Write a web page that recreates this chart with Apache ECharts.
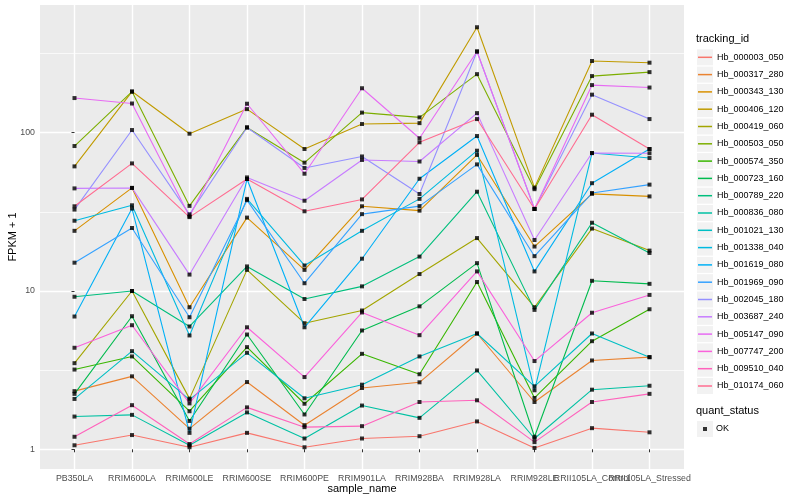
<!DOCTYPE html>
<html><head><meta charset="utf-8">
<script src="https://cdn.jsdelivr.net/npm/echarts@6/dist/echarts.min.js"></script>
<style>html,body{margin:0;padding:0;background:#fff}#c{width:800px;height:500px}</style>
</head><body><div id="c"></div>
<script>
// ---------- data ----------
const sampleNames = ['PB350LA','RRIM600LA','RRIM600LE','RRIM600SE','RRIM600PE','RRIM901LA','RRIM928BA','RRIM928LA','RRIM928LE','RRII105LA_Control','RRII105LA_Stressed'];
const trackingIds = ['Hb_000003_050','Hb_000317_280','Hb_000343_130','Hb_000406_120','Hb_000419_060','Hb_000503_050','Hb_000574_350','Hb_000723_160','Hb_000789_220','Hb_000836_080','Hb_001021_130','Hb_001338_040','Hb_001619_080','Hb_001969_090','Hb_002045_180','Hb_003687_240','Hb_005147_090','Hb_007747_200','Hb_009510_040','Hb_010174_060'];
// FPKM + 1 per sample
const hb_000003_050 = [1.06, 1.23, 1.03, 1.27, 1.03, 1.17, 1.21, 1.50, 1.02, 1.36, 1.28];
const hb_000317_280 = [2.33, 2.89, 1.35, 2.66, 1.42, 2.44, 2.65, 5.39, 1.99, 3.64, 3.82];
const hb_000343_130 = [24.0, 44.8, 7.9, 29.1, 13.6, 34.3, 32.2, 72.4, 19.1, 41.1, 39.6];
const hb_000406_120 = [61.3, 182, 98.6, 141, 78.9, 113.5, 115, 464, 45, 284, 277];
const hb_000419_060 = [3.5, 10.0, 2.09, 13.6, 6.26, 7.53, 12.8, 21.6, 7.9, 24.8, 18.0];
const hb_000503_050 = [82.4, 182, 34.5, 108, 64.7, 134, 125, 234.5, 44, 228, 241.5];
const hb_000574_350 = [3.19, 3.86, 1.74, 4.42, 1.94, 4.01, 2.98, 11.4, 2.11, 4.82, 7.67];
const hb_000723_160 = [2.24, 6.93, 1.51, 5.31, 1.66, 5.63, 8.0, 15.0, 1.20, 11.6, 11.1];
const hb_000789_220 = [9.2, 10.0, 5.97, 14.3, 8.9, 10.7, 16.5, 42.4, 7.6, 27.0, 17.4];
const hb_000836_080 = [1.61, 1.65, 1.06, 1.71, 1.17, 1.89, 1.58, 3.15, 1.17, 2.38, 2.52];
const hb_001021_130 = [2.08, 4.17, 2.06, 4.07, 2.10, 2.56, 3.86, 5.39, 2.50, 5.39, 3.82];
const hb_001338_040 = [27.8, 34.8, 5.24, 38.2, 14.5, 24.0, 38.2, 77.0, 2.36, 74.4, 69.2];
const hb_001619_080 = [6.9, 33.2, 1.27, 51, 5.9, 16.0, 51.2, 95.3, 13.3, 48.0, 78.9];
const hb_001969_090 = [15.1, 25.0, 6.83, 37.5, 11.2, 30.6, 34.4, 63.1, 16.6, 41.6, 47.0];
const hb_002045_180 = [32.7, 104, 30.5, 108, 59.9, 70.8, 41.0, 326, 33, 174, 122];
const hb_003687_240 = [44.5, 44.8, 12.7, 52.2, 37.2, 67.3, 65.8, 133, 21.0, 74.4, 74.2];
const hb_005147_090 = [165.6, 153, 29.6, 152.5, 55.1, 191, 92.3, 326, 33, 200, 193];
const hb_007747_200 = [4.38, 6.08, 1.95, 5.9, 2.86, 7.32, 5.26, 13.3, 3.61, 7.29, 9.45];
const hb_009510_040 = [1.20, 1.90, 1.08, 1.84, 1.38, 1.40, 1.99, 2.04, 1.11, 1.99, 2.24];
const hb_010174_060 = [34.3, 64, 29.3, 51, 31.9, 37.9, 87, 122, 33, 130, 78.9];
const yTickValues = [1, 10, 100];
const yTickLabels = ['1', '10', '100'];
const yMinorValues = [Math.sqrt(10), Math.sqrt(1000), Math.sqrt(100000)];
const quantStatus = ['OK'];

const seriesValues = [hb_000003_050, hb_000317_280, hb_000343_130, hb_000406_120, hb_000419_060, hb_000503_050, hb_000574_350, hb_000723_160, hb_000789_220, hb_000836_080, hb_001021_130, hb_001338_040, hb_001619_080, hb_001969_090, hb_002045_180, hb_003687_240, hb_005147_090, hb_007747_200, hb_009510_040, hb_010174_060];

// ---------- style ----------
const palette = ['#F8766D','#EA8331','#D89000','#C09B00','#A3A500','#7CAE00','#39B600','#00BB4E','#00BF7D','#00C1A3','#00BFC4','#00BAE0','#00B0F6','#35A2FF','#9590FF','#C77CFF','#E76BF3','#FA62DB','#FF62BC','#FF6C91'];
const FONT = 'Liberation Sans, Arial, sans-serif';
const LOG_MIN = -0.1245, LOG_MAX = 2.807;
const X_MIN = -0.6, X_MAX = sampleNames.length - 1 + 0.6;
const legendTop0 = 57.3, legendStep = 17.3;

const chart = echarts.init(document.getElementById('c'), null, {renderer: 'canvas'});

const lineSeries = trackingIds.map((id, i) => ({
  name: id,
  type: 'line',
  color: palette[i],
  data: sampleNames.map((s, j) => [j, Math.log10(seriesValues[i][j])]),
  showSymbol: false,
  symbol: 'none',
  lineStyle: {color: palette[i], width: 1.1},
  z: 2,
  silent: true
}));

const pointData = [];
seriesValues.forEach(vals => vals.forEach((v, j) => pointData.push([j, Math.log10(v)])));

const graphics = trackingIds.map((id, k) => ({
  type: 'rect', left: 697, top: legendTop0 + legendStep * k - 8, silent: true,
  shape: {width: 16, height: 16}, style: {fill: '#F2F2F2'}, z: -1
}));
graphics.push({type: 'rect', left: 697, top: 429 - 8, silent: true, shape: {width: 16, height: 16}, style: {fill: '#F2F2F2'}, z: -1});

const allIdx = sampleNames.map((s, j) => j);
const evenIdx = allIdx.filter(j => j % 2 === 0);
const oddIdx = allIdx.filter(j => j % 2 === 1);
const xLabelStyle = {formatter: v => sampleNames[Math.round(v)], fontSize: 8.8, color: '#4D4D4D', margin: 5, fontFamily: FONT, showMaxLabel: true, showMinLabel: true, hideOverlap: false};

chart.setOption({
  animation: false,
  textStyle: {fontFamily: FONT},
  grid: {left: 40, right: 116, top: 5, bottom: 31, show: true, backgroundColor: '#EBEBEB', borderWidth: 0, containLabel: false, outerBoundsMode: 'none'},
  title: [
    {text: 'tracking_id', left: 696, top: 33, padding: 0, textStyle: {fontSize: 11, fontWeight: 'normal', color: '#000', fontFamily: FONT}},
    {text: 'quant_status', left: 696, top: 405, padding: 0, textStyle: {fontSize: 11, fontWeight: 'normal', color: '#000', fontFamily: FONT}}
  ],
  legend: [
    {data: trackingIds, orient: 'vertical', left: 698, top: legendTop0 - legendStep / 2, padding: 0,
     itemGap: 0, itemWidth: 14, itemHeight: 1.5, icon: 'rect', selectedMode: false,
     textStyle: {fontSize: 9, lineHeight: legendStep, color: '#000', fontFamily: FONT}},
    {data: quantStatus, orient: 'vertical', left: 703, top: 429 - legendStep / 2, padding: 0,
     itemGap: 0, itemWidth: 4, itemHeight: 4, icon: 'rect', selectedMode: false,
     textStyle: {fontSize: 9, lineHeight: legendStep, color: '#000', fontFamily: FONT, padding: [0, 0, 0, 4]}}
  ],
  graphic: graphics,
  xAxis: [
    {
      type: 'value', min: X_MIN, max: X_MAX, position: 'bottom',
      name: 'sample_name', nameLocation: 'middle', nameGap: 14, nameMoveOverlap: false,
      nameTextStyle: {fontSize: 11, color: '#000', fontFamily: FONT},
      axisLine: {show: false},
      axisTick: {show: true, length: 3, lineStyle: {color: '#333', width: 1}, customValues: allIdx},
      axisLabel: Object.assign({customValues: evenIdx}, xLabelStyle),
      splitLine: {show: true, lineStyle: {color: '#FFFFFF', width: 1.4}}
    },
    {
      type: 'value', min: X_MIN, max: X_MAX, position: 'bottom', offset: 0,
      axisLine: {show: false},
      axisTick: {show: false, customValues: oddIdx},
      axisLabel: Object.assign({customValues: oddIdx}, xLabelStyle),
      splitLine: {show: false}
    }
  ],
  yAxis: [
    {
      type: 'value', min: LOG_MIN, max: LOG_MAX,
      name: 'FPKM + 1', nameLocation: 'middle', nameGap: 22, nameRotate: 90, nameMoveOverlap: false,
      nameTextStyle: {fontSize: 11, color: '#000', fontFamily: FONT},
      axisLine: {show: false},
      axisTick: {show: true, length: 3, lineStyle: {color: '#333', width: 1}, customValues: yTickValues.map(v => Math.log10(v))},
      axisLabel: {customValues: yTickValues.map(v => Math.log10(v)), formatter: v => yTickLabels[Math.round(v)], fontSize: 8.8, color: '#4D4D4D', margin: 5, fontFamily: FONT},
      splitLine: {show: true, lineStyle: {color: '#FFFFFF', width: 1.4}}
    },
    {
      type: 'value', min: LOG_MIN, max: LOG_MAX, position: 'left',
      axisLine: {show: false},
      axisTick: {show: false, customValues: yMinorValues.map(v => Math.log10(v))},
      axisLabel: {show: false, customValues: yMinorValues.map(v => Math.log10(v))},
      splitLine: {show: true, lineStyle: {color: '#FFFFFF', width: 0.7}}
    }
  ],
  series: lineSeries.concat([{
    name: 'OK', type: 'scatter', data: pointData, symbol: 'rect', symbolSize: 4,
    itemStyle: {color: '#000'}, z: 5, silent: true
  }])
});
</script></body></html>
